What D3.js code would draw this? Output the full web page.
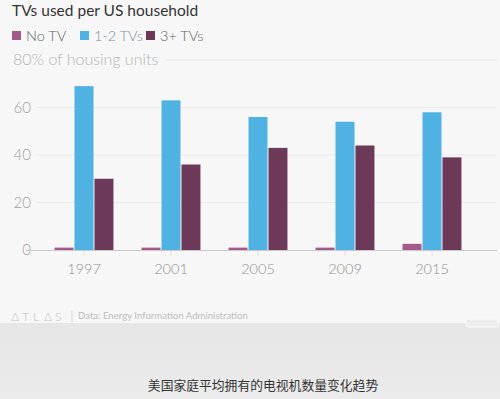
<!DOCTYPE html>
<html>
<head>
<meta charset="utf-8">
<script src="https://cdn.jsdelivr.net/npm/d3@7"></script>
<style>
  body { margin: 0; background: #f7f7f7; }
  svg { display: block; font-family: Lato, "Open Sans", sans-serif; }
</style>
</head>
<body>
<div id="chart"></div>
<script>
// data
var years = ['1997', '2001', '2005', '2009', '2015'];
var series = ['No TV', '1-2 TVs', '3+ TVs'];
var colors = ['#a35a8b', '#4fb2e3', '#6d3959'];
var noTv = [1, 1, 1, 1, 2.6];
var oneTwo = [69, 63, 56, 54, 58];
var threePlus = [30, 36, 43, 44, 39];
var yTicks = [0, 20, 40, 60, 80];

var width = 500, height = 399;

var svg = d3.select('#chart').append('svg')
  .attr('width', width)
  .attr('height', height);

// gray band at the bottom with the caption
var grad = svg.append('defs').append('linearGradient')
  .attr('id', 'band').attr('x1', 0).attr('x2', 0).attr('y1', 0).attr('y2', 1);
grad.append('stop').attr('offset', '0%').attr('stop-color', '#e6e6e6');
grad.append('stop').attr('offset', '100%').attr('stop-color', '#ebebeb');

svg.append('rect')
  .attr('x', 0).attr('y', 323)
  .attr('width', width).attr('height', height - 323)
  .style('fill', 'url(#band)');

svg.append('rect')
  .attr('x', 466).attr('y', 319)
  .attr('width', 32).attr('height', 8)
  .attr('rx', 2)
  .style('fill', '#ededed')
  .style('stroke', '#fbfbfb');

svg.append('text')
  .attr('x', 263).attr('y', 390)
  .attr('text-anchor', 'middle')
  .style('font-family', '"Noto Sans CJK SC", sans-serif')
  .style('font-size', '12.8px')
  .style('fill', '#333')
  .text('美国家庭平均拥有的电视机数量变化趋势');

// title
svg.append('text')
  .attr('x', 12).attr('y', 16)
  .style('font-size', '15.5px')
  .style('fill', '#333')
  .text('TVs used per US household');

// legend
var legendX = [12, 80, 146];
var legendText = ['#5f5f5f', '#7c8fa0', '#5f5f5f'];
series.forEach(function(s, i) {
  svg.append('rect')
    .attr('x', legendX[i]).attr('y', 31)
    .attr('width', 9).attr('height', 9)
    .style('fill', colors[i]);
  svg.append('text')
    .attr('x', legendX[i] + 14).attr('y', 41)
    .style('font-size', '14.5px')
    .style('font-weight', '300')
    .style('fill', legendText[i])
    .text(s);
});

// scales
var x0 = d3.scaleBand()
  .domain(years)
  .range([40.5, 475.5])
  .paddingInner(0.3)
  .paddingOuter(0.15);

var x1 = d3.scaleBand()
  .domain(series)
  .range([0, x0.bandwidth()])
  .padding(0.05);

var y = d3.scaleLinear()
  .domain([0, 80])
  .range([250, 60]);

// gridlines + y labels
yTicks.forEach(function(t) {
  if (t === 80) {
    svg.append('line')
      .attr('x1', 165).attr('x2', 497)
      .attr('y1', y(t)).attr('y2', y(t))
      .style('stroke', '#e6e6e6');
    svg.append('text')
      .attr('x', 13).attr('y', y(t) + 5)
      .style('font-size', '16px')
      .style('font-weight', '300')
      .style('fill', '#b5b5b5')
      .text('80% of housing units');
  } else {
    if (t !== 0) {
      svg.append('line')
        .attr('x1', 36).attr('x2', 497)
        .attr('y1', y(t)).attr('y2', y(t))
        .style('stroke', '#ececec');
    }
    svg.append('text')
      .attr('x', 31).attr('y', y(t) + 5)
      .attr('text-anchor', 'end')
      .style('font-size', '15px')
      .style('font-weight', '300')
      .style('fill', '#a0a0a0')
      .text(t);
  }
});

// bars
var values = [noTv, oneTwo, threePlus];
years.forEach(function(yr, j) {
  var g = svg.append('g')
    .attr('transform', 'translate(' + x0(yr) + ',0)');
  series.forEach(function(s, i) {
    var v = values[i][j];
    g.append('rect')
      .attr('x', x1(s))
      .attr('y', y(v))
      .attr('width', x1.bandwidth())
      .attr('height', y(0) - y(v))
      .style('fill', colors[i]);
  });
});

// baseline
svg.append('line')
  .attr('x1', 26).attr('x2', 497)
  .attr('y1', y(0) + 0.5).attr('y2', y(0) + 0.5)
  .style('stroke', '#c8c8c8');

// x axis
var xAxis = svg.append('g')
  .attr('transform', 'translate(0,' + (y(0) + 1) + ')')
  .call(d3.axisBottom(x0).tickSize(5).tickPadding(8));
xAxis.select('.domain').remove();
xAxis.selectAll('line').style('stroke', '#e2e2e2');
xAxis.selectAll('text')
  .style('font-family', 'Lato, "Open Sans", sans-serif')
  .style('font-size', '14.5px')
  .style('font-weight', '300')
  .style('fill', '#909090');

// footer
var logo = svg.append('g').attr('transform', 'translate(11,311)');
['\u0394', 'T', 'L', '\u0394', 'S'].forEach(function(c, i) {
  logo.append('text')
    .attr('x', i * 11).attr('y', 10)
    .style('font-size', '12.5px')
    .style('font-weight', '300')
    .style('fill', '#c4c4c4')
    .text(c);
});
svg.append('line')
  .attr('x1', 72).attr('x2', 72)
  .attr('y1', 311).attr('y2', 322)
  .style('stroke', '#d4d4d4');
svg.append('text')
  .attr('x', 78).attr('y', 319)
  .style('font-size', '9.6px')
  .style('fill', '#bdbdbd')
  .text('Data: Energy Information Administration');
</script>
</body>
</html>
